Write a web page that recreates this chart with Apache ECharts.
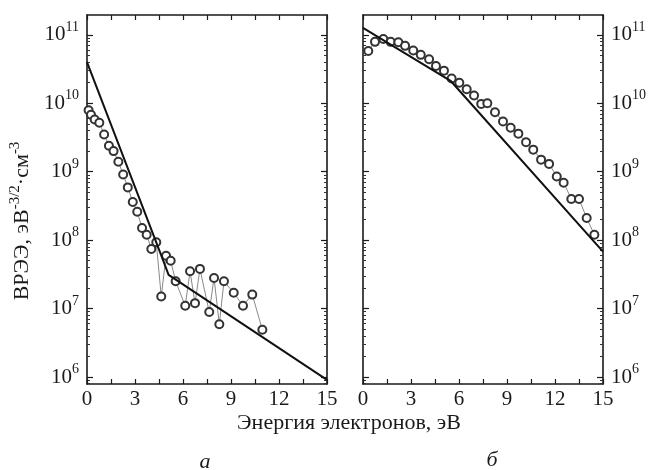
<!DOCTYPE html>
<html>
<head>
<meta charset="utf-8">
<script src="https://cdn.jsdelivr.net/npm/echarts@6/dist/echarts.min.js"></script>
<style>
  html, body { margin: 0; padding: 0; background: #fff; }
  #chart { width: 649px; height: 470px; }
</style>
</head>
<body>
<div id="chart"></div>
<script>
// panel а: measured EEDF points and fitted line
const energyA = [0.10, 0.25, 0.48, 0.77, 1.07, 1.37, 1.66, 1.96, 2.26, 2.55, 2.86, 3.14, 3.44, 3.73,
  4.02, 4.33, 4.64, 4.94, 5.23, 5.54, 6.14, 6.44, 6.75, 7.06, 7.64, 7.94, 8.27, 8.56, 9.17, 9.75, 10.33, 10.96];
const eedfA = [7.9e9, 6.8e9, 5.8e9, 5.2e9, 3.5e9, 2.4e9, 2.0e9, 1.4e9, 9.1e8, 5.9e8, 3.6e8, 2.6e8, 1.5e8, 1.2e8,
  7.4e7, 9.3e7, 1.5e7, 5.9e7, 5.0e7, 2.5e7, 1.1e7, 3.5e7, 1.2e7, 3.8e7, 8.9e6, 2.8e7, 5.9e6, 2.5e7, 1.7e7, 1.1e7, 1.6e7, 4.9e6];
const fitEnergyA = [0, 4.7, 5.1, 15];
const fitA = [4.0e10, 5.5e7, 3.1e7, 9.1e5];

// panel б
const energyB = [0.33, 0.75, 1.27, 1.73, 2.21, 2.63, 3.14, 3.61, 4.13, 4.56, 5.06, 5.54, 6.02, 6.48, 6.94, 7.39,
  7.77, 8.25, 8.75, 9.23, 9.71, 10.19, 10.64, 11.13, 11.63, 12.11, 12.54, 13.02, 13.50, 13.98, 14.46];
const eedfB = [5.8e10, 7.9e10, 8.7e10, 7.9e10, 7.8e10, 6.9e10, 5.9e10, 5.1e10, 4.4e10, 3.5e10, 3.0e10, 2.3e10, 2.0e10, 1.6e10, 1.3e10, 9.8e9,
  1.0e10, 7.4e9, 5.4e9, 4.4e9, 3.6e9, 2.7e9, 2.1e9, 1.5e9, 1.3e9, 8.5e8, 6.9e8, 4.0e8, 4.0e8, 2.1e8, 1.2e8];
const fitEnergyB = [0, 5.5, 15];
const fitB = [1.26e11, 2.1e10, 6.8e7];

// axes
const xTicks = [0, 3, 6, 9, 12, 15];
const xTickMarks = [0, 1.5, 3, 4.5, 6, 7.5, 9, 10.5, 12, 13.5, 15];
const yTicks = [1e6, 1e7, 1e8, 1e9, 1e10, 1e11];
const yMin = 7.9e5, yMax = 1.95e11;

// minor ticks 2..9 inside every decade
const yMinor = [];
[1e5].concat(yTicks).forEach(d => {
  for (let k = 2; k <= 9; k++) {
    const v = d * k;
    if (v > yMin && v < yMax) yMinor.push(v);
  }
});

const font = '"Liberation Serif", "DejaVu Serif", serif';
const ink = '#1a1a1a';
const zip = (xs, ys) => xs.map((x, i) => [x, ys[i]]);

function powLabel(v) {
  return '10{s|' + Math.round(Math.log10(v)) + '}';
}

function xAxis(grid, pos, labels) {
  return {
    type: 'value', gridIndex: grid, position: pos, min: 0, max: 15,
    axisLine: { onZero: false, lineStyle: { color: ink, width: 1.6 } },
    axisTick: { inside: true, length: 5, customValues: xTickMarks, lineStyle: { color: ink, width: 1.2 } },
    splitLine: { show: false },
    axisLabel: { show: labels, customValues: xTicks, color: ink, fontFamily: font, fontSize: 21, margin: 5 }
  };
}

function yAxis(grid, pos, labels) {
  return {
    type: 'log', logBase: 10, gridIndex: grid, position: pos, min: yMin, max: yMax,
    axisLine: { onZero: false, lineStyle: { color: ink, width: 1.6 } },
    axisTick: { inside: true, length: 6, customValues: yTicks, lineStyle: { color: ink, width: 1.2 } },
    splitLine: { show: false },
    axisLabel: {
      show: labels, customValues: yTicks, color: ink, fontFamily: font, fontSize: 21, margin: 8,
      formatter: powLabel,
      rich: { s: { fontSize: 14, fontFamily: font, color: ink, padding: [0, 0, 15, 0] } }
    }
  };
}

// extra axis that only carries the short log minor ticks
function yMinorAxis(grid, pos) {
  return {
    type: 'log', logBase: 10, gridIndex: grid, position: pos, min: yMin, max: yMax,
    axisLine: { show: false, onZero: false },
    axisTick: { inside: true, length: 3, customValues: yMinor, lineStyle: { color: '#333', width: 1 } },
    splitLine: { show: false },
    axisLabel: { show: false }
  };
}

const chart = echarts.init(document.getElementById('chart'));

const points = (xi, yi, data) => ({
  type: 'line', xAxisIndex: xi, yAxisIndex: yi, data: data,
  symbol: 'emptyCircle', symbolSize: 8, z: 2,
  itemStyle: { color: '#333', borderColor: '#333', borderWidth: 1.5 },
  lineStyle: { color: '#888', width: 1 }
});
const fit = (xi, yi, data) => ({
  type: 'line', xAxisIndex: xi, yAxisIndex: yi, data: data,
  showSymbol: false, z: 3,
  lineStyle: { color: '#111', width: 2 }
});

chart.setOption({
  animation: false,
  grid: [
    { left: 87, top: 15, width: 240, height: 369 },
    { left: 363, top: 15, width: 240, height: 369 }
  ],
  xAxis: [
    xAxis(0, 'bottom', true), xAxis(0, 'top', false),
    xAxis(1, 'bottom', true), xAxis(1, 'top', false)
  ],
  yAxis: [
    yAxis(0, 'left', true), yAxis(0, 'right', false), yMinorAxis(0, 'left'), yMinorAxis(0, 'right'),
    yAxis(1, 'left', false), yAxis(1, 'right', true), yMinorAxis(1, 'left'), yMinorAxis(1, 'right')
  ],
  series: [
    points(0, 0, zip(energyA, eedfA)),
    fit(0, 0, zip(fitEnergyA, fitA)),
    points(2, 5, zip(energyB, eedfB)),
    fit(2, 5, zip(fitEnergyB, fitB))
  ],
  graphic: [
    {
      type: 'text', x: 22, y: 221, rotation: Math.PI / 2,
      style: {
        text: 'ВРЭЭ, эВ{s|-3/2}·см{s|-3}', fontFamily: font, fontSize: 22, fill: ink,
        align: 'center', verticalAlign: 'middle',
        rich: { s: { fontSize: 15, fontFamily: font, fill: ink, padding: [0, 0, 14, 0] } }
      }
    },
    { type: 'text', x: 349, y: 423, style: { text: 'Энергия электронов, эВ', fontFamily: font, fontSize: 22, fill: ink, align: 'center', verticalAlign: 'middle' } },
    { type: 'text', x: 205, y: 462, style: { text: 'а', fontFamily: font, fontSize: 22, fontStyle: 'italic', fill: ink, align: 'center', verticalAlign: 'middle' } },
    { type: 'text', x: 492, y: 460, style: { text: 'б', fontFamily: font, fontSize: 22, fontStyle: 'italic', fill: ink, align: 'center', verticalAlign: 'middle' } }
  ]
});
</script>
</body>
</html>
